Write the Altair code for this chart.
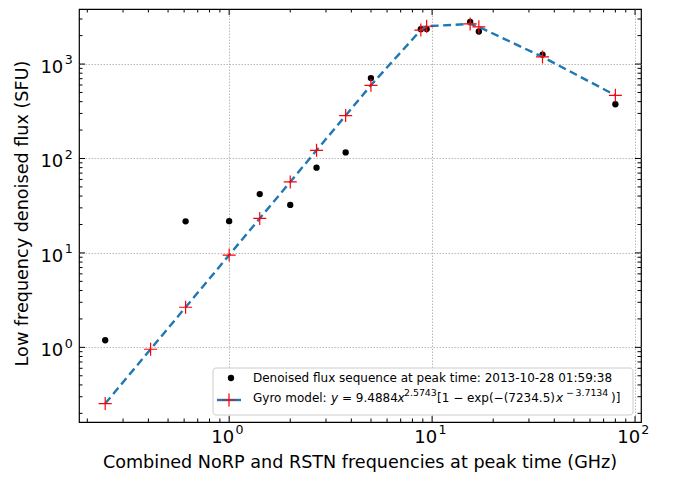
import altair as alt
import pandas as pd

# ---- data ----
freq_obs = [0.245, 0.61, 1.0, 1.415, 2.0, 2.695, 3.75, 4.995, 8.8, 9.4, 15.4, 17.0, 35.0, 80.0]
flux_obs = [1.19, 21.6, 21.7, 42.0, 32.2, 80.0, 116.0, 710.0, 2340.0, 2345.0, 2790.0, 2210.0, 1260.0, 375.0]

freq_model = [0.245, 0.41, 0.61, 1.0, 1.415, 2.0, 2.695, 3.75, 4.995, 8.8, 9.4, 15.4, 17.0, 35.0, 80.0]
flux_model = [0.254, 0.955, 2.66, 9.49, 23.2, 56.5, 122.0, 285.0, 596.0, 2290.0, 2515.0, 2660.0, 2475.0, 1190.0, 467.0]

x_major = [1, 10, 100]
x_minor = [0.2, 0.3, 0.4, 0.5, 0.6, 0.7, 0.8, 0.9,
           2, 3, 4, 5, 6, 7, 8, 9,
           20, 30, 40, 50, 60, 70, 80, 90]
y_major = [1, 10, 100, 1000]
y_minor = [0.2, 0.3, 0.4, 0.5, 0.6, 0.7, 0.8, 0.9,
           2, 3, 4, 5, 6, 7, 8, 9,
           20, 30, 40, 50, 60, 70, 80, 90,
           200, 300, 400, 500, 600, 700, 800, 900,
           2000, 3000]
x_tick_base = ["10", "10", "10"]
x_tick_exp = ["0", "1", "2"]
y_tick_base = ["10", "10", "10", "10"]
y_tick_exp = ["0", "1", "2", "3"]

x_title = "Combined NoRP and RSTN frequencies at peak time (GHz)"
y_title = "Low frequency denoised flux (SFU)"
legend_obs = "Denoised flux sequence at peak time: 2013-10-28 01:59:38"
legend_model_parts = ["Gyro model: ", "y", "= 9.4884", "x", "2.5743",
                      "[1 − exp(−(7234.5)", "x", "−", "3.7134", ")]"]

FONT = "DejaVu Sans"
W, H = 562, 413
MAJ, MIN = 6, 3.5
LBL, SUP = 18, 12.6

obs = pd.DataFrame({"f": freq_obs, "s": flux_obs})
mod = pd.DataFrame({"f": freq_model, "s": flux_model})

xs = alt.Scale(type="log", domain=[0.182, 107], nice=False)
ys = alt.Scale(type="log", domain=[0.162, 3828], nice=False)

common_axis = dict(grid=True, gridDash=[1.5, 1.5], gridColor="#a8a8a8", gridWidth=0.8,
                   ticks=False, labels=False, domain=False, title=None)
xaxis = alt.Axis(values=x_major, **common_axis)
yaxis = alt.Axis(values=y_major, **common_axis)


def X(field):
    return alt.X(field + ":Q", scale=xs, axis=xaxis)


def Y(field):
    return alt.Y(field + ":Q", scale=ys, axis=yaxis)


layers = []

# data layers
layers.append(alt.Chart(obs).mark_circle(size=40, color="black", opacity=1).encode(x=X("f"), y=Y("s")))
layers.append(alt.Chart(mod).mark_line(color="#1f77b4", strokeWidth=2.4, strokeDash=[8, 4.5]).encode(
    x=X("f"), y=Y("s")))
cross = "M-1,0L1,0M0,-1L0,1"
layers.append(alt.Chart(mod).mark_point(shape=cross, size=170, color="red", filled=False,
                                        strokeWidth=1.2, opacity=1).encode(x=X("f"), y=Y("s")))

# inward ticks on all four sides
for vals, ln in ((x_major, MAJ), (x_minor, MIN)):
    d = pd.DataFrame({"v": vals})
    layers.append(alt.Chart(d).mark_rule(color="black", strokeWidth=1).encode(
        x=X("v"), y=alt.value(H), y2=alt.value(H - ln)))
    layers.append(alt.Chart(d).mark_rule(color="black", strokeWidth=1).encode(
        x=X("v"), y=alt.value(0), y2=alt.value(ln)))
for vals, ln in ((y_major, MAJ), (y_minor, MIN)):
    d = pd.DataFrame({"v": vals})
    layers.append(alt.Chart(d).mark_rule(color="black", strokeWidth=1).encode(
        y=Y("v"), x=alt.value(0), x2=alt.value(ln)))
    layers.append(alt.Chart(d).mark_rule(color="black", strokeWidth=1).encode(
        y=Y("v"), x=alt.value(W), x2=alt.value(W - ln)))

# tick labels "10" with a raised exponent, placed through the scales
xl = pd.DataFrame({"v": x_major, "b": x_tick_base, "e": x_tick_exp})
layers.append(alt.Chart(xl).mark_text(font=FONT, fontSize=LBL, align="center", baseline="alphabetic",
                                      dx=-6.4, color="black").encode(
    x=X("v"), y=alt.value(H + 21.3), text="b:N"))
layers.append(alt.Chart(xl).mark_text(font=FONT, fontSize=SUP, align="left", baseline="alphabetic",
                                      dx=6.3, color="black").encode(
    x=X("v"), y=alt.value(H + 12.2), text="e:N"))
yl = pd.DataFrame({"v": y_major, "b": y_tick_base, "e": y_tick_exp})
layers.append(alt.Chart(yl).mark_text(font=FONT, fontSize=LBL, align="right", baseline="alphabetic",
                                      dy=8.8, color="black").encode(
    y=Y("v"), x=alt.value(-15.7), text="b:N"))
layers.append(alt.Chart(yl).mark_text(font=FONT, fontSize=SUP, align="left", baseline="alphabetic",
                                      dy=0.2, color="black").encode(
    y=Y("v"), x=alt.value(-14.2), text="e:N"))

# axis titles
one = pd.DataFrame({"t": [""]})
layers.append(alt.Chart(pd.DataFrame({"t": [x_title]})).mark_text(
    font=FONT, fontSize=17.6, align="center", baseline="alphabetic", color="black").encode(
    x=alt.value(W / 2), y=alt.value(H + 46.3), text="t:N"))
layers.append(alt.Chart(pd.DataFrame({"t": [y_title]})).mark_text(
    font=FONT, fontSize=17.6, align="center", baseline="alphabetic", angle=270, color="black").encode(
    x=alt.value(-51), y=alt.value(204.5), text="t:N"))

# legend (drawn by hand, inside the plot at lower right)
layers.append(alt.Chart(one).mark_rect(fill="white", fillOpacity=0.85, stroke="#cccccc",
                                       strokeWidth=1, cornerRadius=3).encode(
    x=alt.value(134), x2=alt.value(554), y=alt.value(359), y2=alt.value(406)))
layers.append(alt.Chart(one).mark_circle(size=40, color="black", opacity=1).encode(
    x=alt.value(152), y=alt.value(369)))
layers.append(alt.Chart(one).mark_rule(color="#1f77b4", strokeWidth=2.4).encode(
    x=alt.value(138), x2=alt.value(162), y=alt.value(391)))
layers.append(alt.Chart(one).mark_point(shape=cross, size=170, color="red", filled=False,
                                        strokeWidth=1.2, opacity=1).encode(
    x=alt.value(150), y=alt.value(391)))


def txt(s, x, y, size=12, style="normal"):
    return alt.Chart(pd.DataFrame({"t": [s]})).mark_text(
        align="left", baseline="middle", font=FONT, fontSize=size, fontStyle=style,
        color="black").encode(x=alt.value(x), y=alt.value(y), text="t:N")


layers.append(txt(legend_obs, 174, 369))
p = legend_model_parts
row2 = 389
sup = row2 - 5
layers.append(txt(p[0], 174, row2))
layers.append(txt(p[1], 252, row2, style="italic"))
layers.append(txt(p[2], 263, row2))
layers.append(txt(p[3], 318.5, row2, style="italic"))
layers.append(txt(p[4], 325, sup, size=9.4))
layers.append(txt(p[5], 358, row2))
layers.append(txt(p[6], 477, row2, style="italic"))
layers.append(txt(p[7], 487, sup, size=9.4))
layers.append(txt(p[8], 496.5, sup, size=9.4))
layers.append(txt(p[9], 532, row2))

chart = alt.layer(*layers).properties(
    width=W, height=H,
    padding={"left": 71, "top": 1, "right": 10, "bottom": 60},
    autosize=alt.AutoSizeParams(type="none"),
    background="white",
).configure_view(stroke="black", strokeWidth=1.2)

chart.save("out.html", embed_options={"renderer": "svg", "actions": False})
